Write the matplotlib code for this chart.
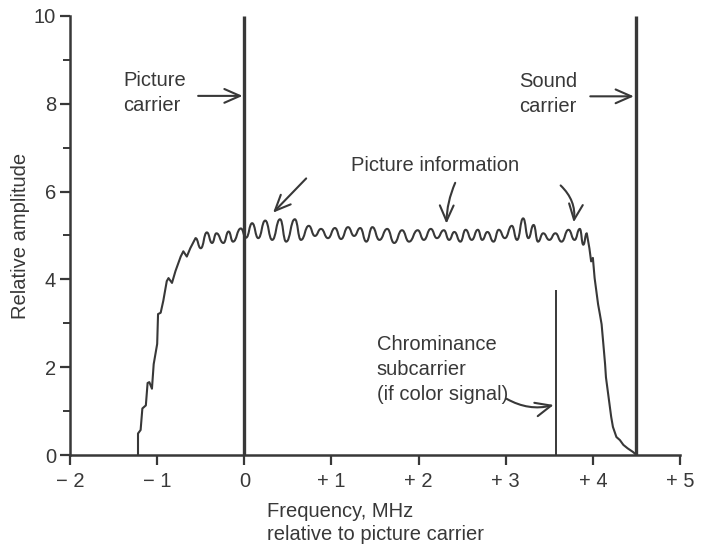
import matplotlib.pyplot as plt
from matplotlib.path import Path
from matplotlib.patches import PathPatch

plt.rcParams['font.family'] = ['Liberation Sans', 'DejaVu Sans']
INK = '#383838'
FS = 14.5

# leading (lower sideband) edge of the picture signal
rise_x = [-1.22, -1.22, -1.19, -1.17, -1.13, -1.11, -1.09, -1.06, -1.04, -1.02, -1.00,
          -0.99, -0.96, -0.93, -0.89, -0.87, -0.83, -0.79, -0.73, -0.70, -0.66, -0.62]
rise_y = [0.0, 0.49, 0.57, 1.06, 1.13, 1.64, 1.66, 1.51, 2.07, 2.30, 2.53,
          3.21, 3.24, 3.51, 3.96, 4.03, 3.92, 4.19, 4.52, 4.64, 4.52, 4.71]

# ripple on the flat top (alternating peaks / troughs)
ripple_x = [-0.56, -0.50, -0.43, -0.37, -0.32, -0.24, -0.18, -0.13,
            -0.04, 0.02, 0.09, 0.16, 0.24, 0.32, 0.41, 0.48, 0.58, 0.65,
            0.74, 0.81, 0.88, 0.96, 1.04, 1.11, 1.19, 1.26, 1.33, 1.40,
            1.47, 1.55, 1.64, 1.72, 1.81, 1.89, 1.99, 2.06, 2.14, 2.21,
            2.29, 2.35, 2.41, 2.48, 2.54, 2.61, 2.68, 2.73, 2.79, 2.86,
            2.92, 2.99, 3.07, 3.13, 3.20, 3.26, 3.32, 3.37, 3.43, 3.50,
            3.57, 3.64, 3.72, 3.79, 3.85, 3.89, 3.93]
ripple_y = [4.94, 4.71, 5.07, 4.83, 5.05, 4.83, 5.09, 4.86,
            5.16, 4.95, 5.28, 4.94, 5.34, 4.90, 5.37, 4.86, 5.37, 4.90,
            5.22, 4.99, 5.15, 4.94, 5.17, 4.92, 5.19, 4.99, 5.17, 4.86,
            5.19, 4.90, 5.15, 4.83, 5.12, 4.86, 5.12, 4.90, 5.15, 4.94,
            5.12, 4.90, 5.08, 4.86, 5.13, 4.90, 5.13, 4.90, 5.08, 4.86,
            5.13, 4.94, 5.22, 4.90, 5.39, 4.94, 5.24, 4.86, 5.05, 4.90,
            5.05, 4.86, 5.13, 4.90, 5.15, 4.79, 5.05]

# upper edge roll-off
fall_x = [3.96, 3.98, 4.00, 4.02, 4.04, 4.06, 4.08, 4.10, 4.12, 4.14, 4.15,
          4.17, 4.19, 4.21, 4.23, 4.27, 4.31, 4.35, 4.40, 4.46, 4.50]
fall_y = [4.71, 4.41, 4.49, 4.03, 3.73, 3.43, 3.21, 2.98, 2.53, 2.07, 1.77,
          1.47, 1.17, 0.87, 0.64, 0.41, 0.34, 0.23, 0.15, 0.07, 0.0]

carrier_x = [0.0, 4.5]      # picture, sound
carrier_top = 10.0
chroma_x = 3.58
chroma_top = 3.75

xticks = [-2, -1, 0, 1, 2, 3, 4, 5]
xtick_labels = ['\u2212 2', '\u2212 1', '0', '+ 1', '+ 2', '+ 3', '+ 4', '+ 5']
yticks = [0, 2, 4, 6, 8, 10]

fig = plt.figure(figsize=(7.06, 5.44), dpi=100)
ax = fig.add_axes([0.0992, 0.1636, 0.864, 0.807])

# build the response curve: straight segments on the edges,
# rounded (horizontal tangent) bezier segments through the ripple extremes
verts = [(rise_x[0], rise_y[0])]
codes = [Path.MOVETO]
for px, py in zip(rise_x[1:], rise_y[1:]):
    verts.append((px, py))
    codes.append(Path.LINETO)
verts.append((ripple_x[0], ripple_y[0]))
codes.append(Path.LINETO)
for i in range(1, len(ripple_x)):
    x0, y0 = ripple_x[i - 1], ripple_y[i - 1]
    x1, y1 = ripple_x[i], ripple_y[i]
    h = (x1 - x0) / 2
    verts += [(x0 + h, y0), (x1 - h, y1), (x1, y1)]
    codes += [Path.CURVE4] * 3
for px, py in zip(fall_x, fall_y):
    verts.append((px, py))
    codes.append(Path.LINETO)
ax.add_patch(PathPatch(Path(verts, codes), fill=False, edgecolor=INK, lw=1.5,
                       joinstyle='round', clip_on=False))

ax.vlines(carrier_x, 0, carrier_top, color=INK, lw=2.4, clip_on=False)
ax.vlines(chroma_x, 0, chroma_top, color=INK, lw=1.4)

ax.set_xlim(-2, 5)
ax.set_ylim(0, 10)
for s in ['top', 'right']:
    ax.spines[s].set_visible(False)
for s in ['left', 'bottom']:
    ax.spines[s].set_linewidth(1.8)
    ax.spines[s].set_color(INK)

ax.set_xticks(xticks)
ax.set_xticklabels(xtick_labels)
ax.set_yticks(yticks)
ax.set_yticks([1, 3, 5, 7, 9], minor=True)
ax.tick_params(axis='both', which='major', direction='out', length=7, width=1.6,
               colors=INK, labelsize=FS)
ax.tick_params(axis='x', pad=5)
ax.tick_params(axis='y', pad=3)
ax.tick_params(axis='y', which='minor', direction='out', length=5, width=1.4, colors=INK)

ax.set_xlabel('Frequency, MHz\nrelative to picture carrier', fontsize=FS, color=INK,
              multialignment='left', linespacing=1.3, labelpad=8)
ax.set_ylabel('Relative amplitude', fontsize=FS, color=INK, labelpad=3)

arrow = dict(arrowstyle='->,head_length=0.75,head_width=0.33', color=INK, lw=1.5,
             shrinkA=0, shrinkB=0, mutation_scale=15)

ax.text(-1.39, 8.25, 'Picture\ncarrier', fontsize=FS, color=INK, va='center',
        linespacing=1.4)
ax.annotate('', xy=(-0.02, 8.18), xytext=(-0.53, 8.18), arrowprops=arrow)

ax.text(3.15, 8.22, 'Sound\ncarrier', fontsize=FS, color=INK, va='center',
        linespacing=1.4)
ax.annotate('', xy=(4.47, 8.17), xytext=(3.97, 8.17), arrowprops=arrow)

ax.text(1.23, 6.59, 'Picture information', fontsize=FS, color=INK, va='center')
ax.annotate('', xy=(0.33, 5.52), xytext=(0.71, 6.3), arrowprops=arrow)
ax.annotate('', xy=(2.32, 5.27), xytext=(2.42, 6.2),
            arrowprops=dict(arrow, connectionstyle='arc3,rad=0.1'))
ax.annotate('', xy=(3.78, 5.3), xytext=(3.63, 6.14),
            arrowprops=dict(arrow, connectionstyle='arc3,rad=-0.25'))

ax.text(1.52, 2.73, 'Chrominance\nsubcarrier\n(if color signal)', fontsize=FS,
        color=INK, va='top', linespacing=1.4)
ax.annotate('', xy=(3.55, 1.14), xytext=(3.01, 1.28),
            arrowprops=dict(arrow, connectionstyle='arc3,rad=0.2'))

fig.savefig('out.png', dpi=100)
